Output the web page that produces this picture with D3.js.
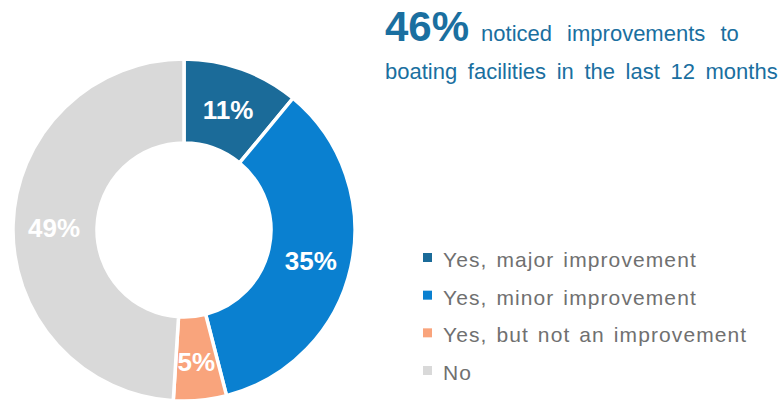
<!DOCTYPE html>
<html>
<head>
<meta charset="utf-8">
<script src="https://cdn.jsdelivr.net/npm/d3@7"></script>
<style>
  html, body { margin: 0; padding: 0; background: #fff; }
  svg { display: block; font-family: "Liberation Sans", Arial, sans-serif; }
</style>
</head>
<body>
<svg id="chart" width="783" height="402"></svg>
<script>
// Survey answers and their shares (percent)
const categories = ["Yes, major improvement", "Yes, minor improvement", "Yes, but not an improvement", "No"];
const values = [11, 35, 5, 49];
const colors = ["#1b6b99", "#0a80d0", "#f9a47c", "#d9d9d9"];
const headlineValue = "46%";
const headlineLine1 = "noticed improvements to";
const headlineLine2 = "boating facilities in the last 12 months";

const svg = d3.select("#chart");
const cx = 184, cy = 230, outerR = 171, innerR = 87;

const pie = d3.pie().sort(null).value(d => d.value);
const arc = d3.arc().innerRadius(innerR).outerRadius(outerR);
const labelArc = d3.arc().innerRadius(130).outerRadius(130);

const data = categories.map((c, i) => ({ name: c, value: values[i], color: colors[i] }));
const arcs = pie(data);

const g = svg.append("g").attr("transform", `translate(${cx},${cy})`);

g.selectAll("path.slice")
  .data(arcs)
  .join("path")
  .attr("class", "slice")
  .attr("d", arc)
  .attr("fill", d => d.data.color)
  .attr("stroke", "#fff")
  .attr("stroke-width", 3.5)
  .attr("stroke-linejoin", "miter");

g.selectAll("text.pct")
  .data(arcs)
  .join("text")
  .attr("class", "pct")
  .attr("transform", d => {
    const [x, y] = labelArc.centroid(d);
    return `translate(${x},${y + 2})`;
  })
  .attr("text-anchor", "middle")
  .attr("dy", "0.36em")
  .attr("fill", "#fff")
  .attr("font-weight", "bold")
  .attr("font-size", 26)
  .text(d => d.data.value + "%");

// Headline
const title = svg.append("text")
  .attr("x", 385)
  .attr("y", 41)
  .attr("fill", "#1a6fa0");
title.append("tspan")
  .attr("font-weight", "bold")
  .attr("font-size", 42)
  .text(headlineValue);
title.append("tspan")
  .attr("font-size", 22)
  .attr("dx", 12)
  .attr("word-spacing", 9)
  .text(headlineLine1);

svg.append("text")
  .attr("x", 385)
  .attr("y", 79)
  .attr("fill", "#1a6fa0")
  .attr("font-size", 22)
  .attr("word-spacing", 4.5)
  .text(headlineLine2);

// Legend: rows positioned on their text baselines
const legend = svg.append("g");
const rowY = d3.scalePoint().domain(categories).range([267, 380]);
const rows = legend.selectAll("g.row")
  .data(data)
  .join("g")
  .attr("class", "row")
  .attr("transform", d => `translate(423,${rowY(d.name)})`);
rows.append("rect")
  .attr("x", 0).attr("y", -14)
  .attr("width", 9).attr("height", 9)
  .attr("fill", d => d.color);
rows.append("text")
  .attr("x", 20)
  .attr("fill", "#707070")
  .attr("font-size", 21)
  .attr("letter-spacing", 1.1)
  .attr("word-spacing", 2)
  .text(d => d.name);
</script>
</body>
</html>
